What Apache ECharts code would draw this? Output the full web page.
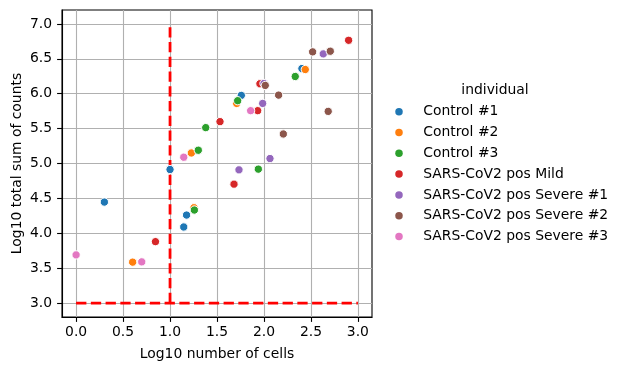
<!DOCTYPE html>
<html><head><meta charset="utf-8">
<script src="https://cdn.jsdelivr.net/npm/echarts@6/dist/echarts.min.js"></script>
<style>html,body{margin:0;padding:0;background:#fff}#c{width:622px;height:371px}</style>
</head><body><div id="c"></div>
<script>
const seriesNames = ['Control #1','Control #2','Control #3','SARS-CoV2 pos Mild','SARS-CoV2 pos Severe #1','SARS-CoV2 pos Severe #2','SARS-CoV2 pos Severe #3'];
const colors = ['#1f77b4','#ff7f0e','#2ca02c','#d62728','#9467bd','#8c564b','#e377c2'];

const control1X = [2.404, 1.759, 1.0, 0.301, 1.176, 1.146];
const control1Y = [6.361, 5.976, 4.914, 4.447, 4.261, 4.090];
const control2X = [2.440, 1.709, 1.227, 1.255, 0.602];
const control2Y = [6.347, 5.861, 5.151, 4.366, 3.586];
const control3X = [2.333, 1.720, 1.380, 1.301, 1.940, 1.259];
const control3Y = [6.247, 5.900, 5.514, 5.190, 4.919, 4.333];
const mildX = [2.901, 1.957, 1.933, 1.532, 1.681, 0.845];
const mildY = [6.766, 6.143, 5.757, 5.600, 4.704, 3.880];
const severe1X = [2.631, 2.000, 1.986, 2.064, 1.734];
const severe1Y = [6.571, 6.147, 5.861, 5.071, 4.909];
const severe2X = [2.518, 2.706, 2.014, 2.156, 2.684, 2.206];
const severe2Y = [6.600, 6.609, 6.119, 5.980, 5.747, 5.423];
const severe3X = [1.858, 1.146, 0.0, 0.699];
const severe3Y = [5.757, 5.090, 3.690, 3.590];

const vLineX = [1, 1];
const vLineY = [3, 7];
const hLineX = [0, 3];
const hLineY = [3, 3];

const xTicks = [0, 0.5, 1, 1.5, 2, 2.5, 3];
const yTicks = [3, 3.5, 4, 4.5, 5, 5.5, 6, 6.5, 7];

const groupsX = [control1X, control2X, control3X, mildX, severe1X, severe2X, severe3X];
const groupsY = [control1Y, control2Y, control3Y, mildY, severe1Y, severe2Y, severe3Y];

const zip = (xs, ys) => xs.map((x, i) => [x, ys[i]]);
const FONT = 'DejaVu Sans';

const chart = echarts.init(document.getElementById('c'), null, {renderer: 'canvas'});

const scatterSeries = seriesNames.map((name, i) => ({
  name: name,
  type: 'scatter',
  data: zip(groupsX[i], groupsY[i]),
  symbol: 'circle',
  symbolSize: 8.3,
  itemStyle: {color: colors[i], borderColor: '#ffffff', borderWidth: 1, opacity: 1},
  z: 3,
  emphasis: {disabled: true}
}));

const lineStyleCommon = {color: '#ff0000', width: 2.78, type: [10.3, 4.45], cap: 'butt'};
const refLines = [
  {type: 'line', data: zip(vLineX, vLineY), symbol: 'none', lineStyle: lineStyleCommon, z: 2, silent: true},
  {type: 'line', data: zip(hLineX, hLineY), symbol: 'none', lineStyle: lineStyleCommon, z: 2, silent: true}
];

const axisCommon = {
  axisLine: {show: true, onZero: false, lineStyle: {color: '#000', width: 1.1}},
  axisTick: {show: true, length: 4.9, lineStyle: {color: '#000', width: 1.1}},
  splitLine: {show: true, lineStyle: {color: '#b0b0b0', width: 1.1}},
  nameTextStyle: {fontFamily: FONT, fontSize: 13.9, color: '#000'}
};

chart.setOption({
  animation: false,
  color: colors,
  textStyle: {fontFamily: FONT},
  grid: {left: 62, right: 250, top: 10, bottom: 54, show: true, borderColor: '#000', borderWidth: 1.1, containLabel: false},
  xAxis: Object.assign({}, axisCommon, {
    type: 'value', min: -0.15, max: 3.15,
    name: 'Log10 number of cells', nameLocation: 'middle', nameGap: 30,
    axisTick: Object.assign({}, axisCommon.axisTick, {customValues: xTicks}),
    axisLabel: {customValues: xTicks, formatter: v => v.toFixed(1), fontFamily: FONT, fontSize: 13.9, color: '#000', margin: 8}
  }),
  yAxis: Object.assign({}, axisCommon, {
    type: 'value', min: 2.8, max: 7.2,
    name: 'Log10 total sum of counts', nameLocation: 'middle', nameGap: 38, nameRotate: 90,
    axisTick: Object.assign({}, axisCommon.axisTick, {customValues: yTicks}),
    axisLabel: {customValues: yTicks, formatter: v => v.toFixed(1), fontFamily: FONT, fontSize: 13.9, color: '#000', margin: 10}
  }),
  legend: {
    orient: 'vertical', left: 390.25, top: 99.7,
    itemWidth: 7.5, itemHeight: 7.5, itemGap: 6.8,
    icon: 'circle',
    itemStyle: {borderWidth: 0},
    data: seriesNames,
    textStyle: {fontFamily: FONT, fontSize: 13.9, color: '#000', lineHeight: 14, padding: [0, 0, 0, 15.5]}
  },
  graphic: [{
    type: 'text', x: 495, y: 90,
    style: {text: 'individual', fontFamily: FONT, fontSize: 13.9, fill: '#000', textAlign: 'center', textVerticalAlign: 'middle'}
  }],
  series: refLines.concat(scatterSeries)
});
</script></body></html>
